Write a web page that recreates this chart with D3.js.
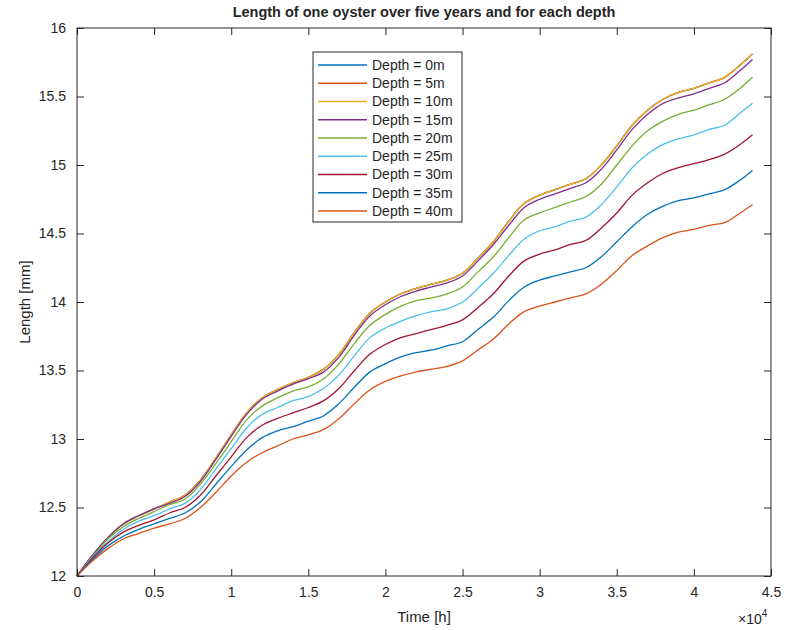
<!DOCTYPE html>
<html>
<head>
<meta charset="utf-8">
<script src="https://cdn.jsdelivr.net/npm/d3@7"></script>
<style>
body{margin:0;background:#fff;}
text{font-family:"Liberation Sans",Arial,sans-serif;fill:#262626;}
</style>
</head>
<body>
<script>
// time in hours
var time=[0,1000,2000,3000,4000,5000,6000,7000,8000,9000,10000,11000,12000,13000,14000,15000,16000,17000,18000,19000,20000,21000,22000,23000,24000,25000,26000,27000,28000,29000,30000,31000,32000,33000,34000,35000,36000,37000,38000,39000,40000,41000,42000,43000,43800]
var depths=["Depth = 0m","Depth = 5m","Depth = 10m","Depth = 15m","Depth = 20m","Depth = 25m","Depth = 30m","Depth = 35m","Depth = 40m"]
var colors=["#0072BD","#D95319","#EDB120","#7E2F8E","#77AC30","#4DBEEE","#A2142F","#0072BD","#D95319"]
var d0=[12,12.15,12.28,12.38,12.44,12.49,12.54,12.59,12.70,12.86,13.03,13.19,13.30,13.36,13.41,13.45,13.51,13.62,13.78,13.92,14.00,14.06,14.10,14.13,14.16,14.21,14.32,14.44,14.59,14.72,14.78,14.82,14.86,14.90,15.00,15.14,15.29,15.40,15.48,15.53,15.56,15.60,15.64,15.73,15.81]
var d5=[12,12.15,12.28,12.38,12.44,12.49,12.54,12.59,12.70,12.86,13.03,13.19,13.30,13.36,13.41,13.45,13.51,13.62,13.78,13.92,14.00,14.06,14.10,14.13,14.16,14.21,14.32,14.44,14.59,14.72,14.78,14.82,14.86,14.90,15.00,15.14,15.29,15.40,15.48,15.53,15.56,15.60,15.64,15.73,15.81]
var d10=[12,12.15,12.28,12.38,12.44,12.49,12.54,12.59,12.70,12.86,13.03,13.19,13.30,13.36,13.41,13.45,13.51,13.62,13.78,13.92,14.00,14.06,14.10,14.13,14.16,14.21,14.32,14.44,14.59,14.72,14.78,14.82,14.86,14.90,15.00,15.14,15.29,15.40,15.48,15.53,15.56,15.60,15.64,15.73,15.81]
var d15=[12,12.15,12.28,12.38,12.44,12.49,12.53,12.58,12.69,12.85,13.02,13.18,13.29,13.35,13.40,13.44,13.49,13.60,13.76,13.90,13.98,14.04,14.08,14.11,14.14,14.19,14.30,14.42,14.56,14.69,14.75,14.79,14.83,14.87,14.97,15.11,15.26,15.37,15.45,15.49,15.52,15.56,15.60,15.69,15.77]
var d20=[12,12.14,12.27,12.36,12.42,12.47,12.52,12.56,12.67,12.82,12.98,13.14,13.24,13.30,13.35,13.38,13.44,13.55,13.70,13.83,13.91,13.97,14.01,14.03,14.06,14.11,14.22,14.33,14.47,14.60,14.65,14.69,14.73,14.77,14.86,15.00,15.14,15.25,15.32,15.37,15.40,15.44,15.48,15.56,15.64]
var d25=[12,12.14,12.25,12.34,12.40,12.44,12.49,12.53,12.63,12.78,12.93,13.08,13.18,13.23,13.28,13.31,13.37,13.47,13.61,13.74,13.81,13.86,13.90,13.93,13.95,14.00,14.10,14.21,14.34,14.46,14.52,14.55,14.59,14.62,14.71,14.84,14.98,15.08,15.15,15.19,15.22,15.26,15.29,15.38,15.45]
var d30=[12,12.13,12.24,12.32,12.37,12.41,12.46,12.50,12.59,12.73,12.87,13.01,13.10,13.15,13.19,13.23,13.28,13.37,13.50,13.62,13.69,13.74,13.77,13.80,13.83,13.87,13.96,14.06,14.19,14.30,14.35,14.38,14.42,14.45,14.54,14.65,14.78,14.87,14.94,14.98,15.01,15.04,15.08,15.15,15.22]
var d35=[12,12.12,12.22,12.29,12.34,12.38,12.42,12.46,12.54,12.67,12.80,12.92,13.01,13.06,13.09,13.13,13.17,13.26,13.38,13.49,13.55,13.60,13.63,13.65,13.68,13.71,13.80,13.89,14.01,14.11,14.16,14.19,14.22,14.25,14.33,14.44,14.55,14.64,14.70,14.74,14.76,14.79,14.82,14.89,14.96]
var d40=[12,12.11,12.20,12.27,12.31,12.35,12.38,12.42,12.50,12.61,12.73,12.83,12.90,12.95,13.00,13.03,13.07,13.15,13.26,13.36,13.42,13.46,13.49,13.51,13.53,13.57,13.65,13.73,13.84,13.93,13.97,14.00,14.03,14.06,14.13,14.23,14.34,14.41,14.47,14.51,14.53,14.56,14.58,14.65,14.71]
var series=[d0,d5,d10,d15,d20,d25,d30,d35,d40]
var xTicks=[0,5000,10000,15000,20000,25000,30000,35000,40000,45000]
var yTicks=[12,12.5,13,13.5,14,14.5,15,15.5,16]

var W=794,H=630
var plot={left:77,right:771,top:28,bottom:576}
var svg=d3.select("body").append("svg").attr("width",W).attr("height",H)

var x=d3.scaleLinear().domain([0,45000]).range([plot.left,plot.right])
var y=d3.scaleLinear().domain([12,16]).range([plot.bottom,plot.top])

var line=d3.line()
  .x(function(d,i){return x(time[i])})
  .y(function(d){return y(d)})
  .curve(d3.curveCatmullRom)

var lines=svg.append("g")
series.forEach(function(s,i){
  lines.append("path")
    .attr("d",line(s))
    .attr("fill","none")
    .attr("stroke",colors[i])
    .attr("stroke-width",1.3)
})

// axes, ticks point inward like matlab
var tk=7
var bottomAxis=d3.axisBottom(x).tickValues(xTicks).tickSize(-tk).tickPadding(11)
  .tickFormat(function(d){return d3.format("~g")(d/10000)})
var topAxis=d3.axisTop(x).tickValues(xTicks).tickSize(-tk).tickFormat("")
var leftAxis=d3.axisLeft(y).tickValues(yTicks).tickSize(-tk).tickPadding(11).tickFormat(d3.format("~g"))
var rightAxis=d3.axisRight(y).tickValues(yTicks).tickSize(-tk).tickFormat("")

function style(g){
  g.select(".domain").remove()
  g.selectAll("line").attr("stroke","#262626")
  g.selectAll("text").attr("font-size",14).attr("fill","#404040").attr("font-family","Liberation Sans, Arial, sans-serif")
}
svg.append("g").attr("transform","translate(0,"+plot.bottom+")").call(bottomAxis).call(style)
svg.append("g").attr("transform","translate(0,"+plot.top+")").call(topAxis).call(style)
svg.append("g").attr("transform","translate("+plot.left+",0)").call(leftAxis).call(style)
svg.append("g").attr("transform","translate("+plot.right+",0)").call(rightAxis).call(style)

svg.append("rect")
  .attr("x",plot.left).attr("y",plot.top)
  .attr("width",plot.right-plot.left).attr("height",plot.bottom-plot.top)
  .attr("fill","none").attr("stroke","#262626").attr("stroke-width",1)

// labels
svg.append("text")
  .attr("x",(plot.left+plot.right)/2).attr("y",17)
  .attr("text-anchor","middle").attr("font-size",14.5).attr("font-weight","bold")
  .attr("fill","#000")
  .text("Length of one oyster over five years and for each depth")
svg.append("text")
  .attr("x",(plot.left+plot.right)/2).attr("y",622)
  .attr("text-anchor","middle").attr("font-size",15).attr("fill","#404040")
  .text("Time [h]")
svg.append("text")
  .attr("transform","translate(30,"+((plot.top+plot.bottom)/2)+") rotate(-90)")
  .attr("text-anchor","middle").attr("font-size",15).attr("fill","#404040")
  .text("Length [mm]")
var mult=svg.append("text").attr("x",738).attr("y",624).attr("font-size",14).attr("fill","#404040")
mult.append("tspan").text("\u00d710")
mult.append("tspan").attr("dy",-7).attr("font-size",10).text("4")

// legend
var lg={x:313,y:52,w:149,h:170}
var leg=svg.append("g")
leg.append("rect").attr("x",lg.x).attr("y",lg.y).attr("width",lg.w).attr("height",lg.h)
  .attr("fill","#fff").attr("stroke","#262626").attr("stroke-width",1)
var row=d3.scaleLinear().domain([0,8]).range([lg.y+13,lg.y+lg.h-11])
depths.forEach(function(d,i){
  leg.append("line")
    .attr("x1",lg.x+5).attr("x2",lg.x+54)
    .attr("y1",row(i)).attr("y2",row(i))
    .attr("stroke",colors[i]).attr("stroke-width",1.3)
  leg.append("text")
    .attr("x",lg.x+59).attr("y",row(i)).attr("dy","0.35em")
    .attr("font-size",14)
    .text(d)
})
</script>
</body>
</html>
